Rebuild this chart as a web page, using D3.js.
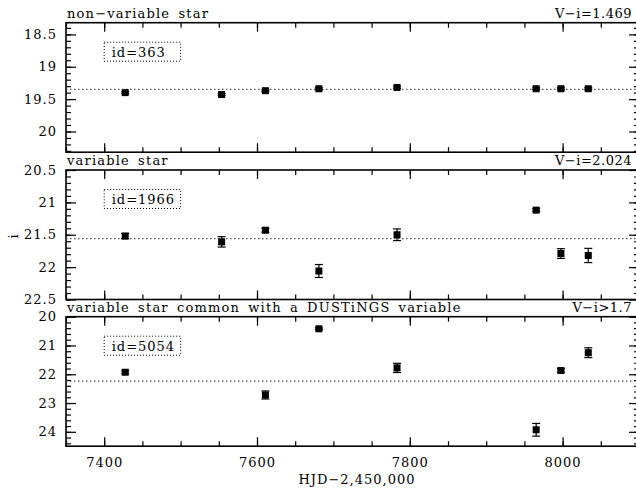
<!DOCTYPE html>
<html>
<head>
<meta charset="UTF-8">
<script src="https://d3js.org/d3.v7.min.js"></script>
<style>
  body { margin: 0; background: #fff; }
  svg { display: block; }
  text { font-family: "DejaVu Serif", serif; font-size: 13px; letter-spacing: 1px; fill: #000; }
  text.title { letter-spacing: 1.2px; word-spacing: 2.8px; }
  text.colour { letter-spacing: 0.5px; }
  .axis path.domain { display: none; }
  .axis line { stroke: #000; stroke-width: 1.2; }
</style>
</head>
<body>
<svg id="chart"></svg>
<script>
const width = 636, height = 494;

// data
const hjd = [7427.5, 7553.7, 7611, 7681, 7783.3, 7965.4, 7997.8, 8033.6];
const mag363 = [19.40, 19.43, 19.37, 19.34, 19.32, 19.34, 19.34, 19.34];
const err363 = [0.015, 0.015, 0.015, 0.015, 0.015, 0.015, 0.015, 0.015];
const mag1966 = [21.52, 21.61, 21.43, 22.06, 21.50, 21.12, 21.79, 21.82];
const err1966 = [0.04, 0.08, 0.03, 0.10, 0.09, 0.02, 0.075, 0.11];
const mag5054 = [21.93, null, 22.72, 20.42, 21.78, 23.93, 21.87, 21.25];
const err5054 = [0.05, null, 0.14, 0.03, 0.16, 0.22, 0.06, 0.17];

const titles = ["non\u2212variable star", "variable star", "variable star common with a DUSTiNGS variable"];
const colours = ["V\u2212i=1.469", "V\u2212i=2.024", "V\u2212i>1.7"];
const ids = ["id=363", "id=1966", "id=5054"];
const means = [19.35, 21.56, 22.24];
const yDomains = [[18.32, 20.32], [20.5, 22.5], [20, 24.5]];
const yMajor = [[18.5, 19, 19.5, 20], [20.5, 21, 21.5, 22, 22.5], [20, 21, 22, 23, 24]];
const yMinorStep = [0.1, 0.1, 0.2];
const xMajor = [7400, 7600, 7800, 8000];
const xMinor = d3.range(7350, 8101, 50);

const panels = [
  {mag: mag363, err: err363},
  {mag: mag1966, err: err1966},
  {mag: mag5054, err: err5054}
];

const left = 66, right = 639;
const tops = [22.7, 170, 316.7];
const ph = 129.5;

const svg = d3.select("#chart").attr("width", width).attr("height", height);

const x = d3.scaleLinear().domain([7350, 8100]).range([left, right]);

panels.forEach((p, i) => {
  const top = tops[i], bottom = top + ph;
  const y = d3.scaleLinear().domain(yDomains[i]).range([top, bottom]);
  const g = svg.append("g");

  const [d0, d1] = yDomains[i];
  const minor = d3.range(Math.ceil(d0 / yMinorStep[i] - 1e-6) * yMinorStep[i], d1 + 1e-6, yMinorStep[i])
    .map(v => +v.toFixed(2));

  // y axes left / right
  g.append("g").attr("class", "axis").attr("transform", `translate(${left},0)`)
    .call(d3.axisLeft(y).tickValues(minor).tickSize(-5).tickFormat(""));
  g.append("g").attr("class", "axis").attr("transform", `translate(${left},0)`)
    .call(d3.axisLeft(y).tickValues(yMajor[i]).tickSize(-10).tickPadding(9).tickFormat(d3.format("")));
  g.append("g").attr("class", "axis").attr("transform", `translate(${right},0)`)
    .call(d3.axisRight(y).tickValues(minor).tickSize(-5).tickFormat(""));
  g.append("g").attr("class", "axis").attr("transform", `translate(${right},0)`)
    .call(d3.axisRight(y).tickValues(yMajor[i]).tickSize(-10).tickFormat(""));

  // x axes top / bottom
  g.append("g").attr("class", "axis").attr("transform", `translate(0,${top})`)
    .call(d3.axisTop(x).tickValues(xMinor).tickSize(-5).tickFormat(""));
  g.append("g").attr("class", "axis").attr("transform", `translate(0,${top})`)
    .call(d3.axisTop(x).tickValues(xMajor).tickSize(-9).tickFormat(""));
  g.append("g").attr("class", "axis").attr("transform", `translate(0,${bottom})`)
    .call(d3.axisBottom(x).tickValues(xMinor).tickSize(-5).tickFormat(""));
  g.append("g").attr("class", "axis").attr("transform", `translate(0,${bottom})`)
    .call(d3.axisBottom(x).tickValues(xMajor).tickSize(-9).tickPadding(12)
      .tickFormat(i === 2 ? d3.format("") : ""));

  // frame
  g.append("rect").attr("x", left).attr("y", top).attr("width", right - left).attr("height", ph)
    .attr("fill", "none").attr("stroke", "#000").attr("stroke-width", 1.6);

  // mean line
  g.append("line").attr("x1", left).attr("x2", right)
    .attr("y1", y(means[i])).attr("y2", y(means[i]))
    .attr("stroke", "#555").attr("stroke-width", 1.2).attr("stroke-dasharray", "1.5,2.5");

  // id box
  const bx = x(7400), bw = x(7500) - x(7400);
  g.append("rect").attr("x", bx).attr("y", top + 19.5).attr("width", bw).attr("height", 19)
    .attr("fill", "none").attr("stroke", "#000").attr("stroke-width", 1).attr("stroke-dasharray", "1,2");
  g.append("text").attr("x", bx + 7.5).attr("y", top + 34).text(ids[i]);

  // titles
  g.append("text").attr("class", "title").attr("x", left + 1).attr("y", top - 5).text(titles[i]);
  g.append("text").attr("class", "colour").attr("x", 632).attr("y", top - 5)
    .attr("text-anchor", "end").text(colours[i]);

  // points with error bars
  const pts = hjd.map((t, k) => ({t: t, m: p.mag[k], e: p.err[k]})).filter(d => d.m != null);
  const eb = g.selectAll(".eb").data(pts).enter().append("g");
  eb.append("line").attr("x1", d => x(d.t)).attr("x2", d => x(d.t))
    .attr("y1", d => y(d.m - d.e)).attr("y2", d => y(d.m + d.e))
    .attr("stroke", "#000").attr("stroke-width", 1.2);
  eb.append("line").attr("x1", d => x(d.t) - 4).attr("x2", d => x(d.t) + 4)
    .attr("y1", d => y(d.m - d.e)).attr("y2", d => y(d.m - d.e))
    .attr("stroke", "#000").attr("stroke-width", 1.2);
  eb.append("line").attr("x1", d => x(d.t) - 4).attr("x2", d => x(d.t) + 4)
    .attr("y1", d => y(d.m + d.e)).attr("y2", d => y(d.m + d.e))
    .attr("stroke", "#000").attr("stroke-width", 1.2);
  eb.append("rect").attr("x", d => x(d.t) - 3.5).attr("y", d => y(d.m) - 3.5)
    .attr("width", 7).attr("height", 7).attr("fill", "#000");
});

// axis titles
svg.append("text").attr("x", 357).attr("y", 484).attr("text-anchor", "middle").text("HJD\u22122,450,000");
svg.append("text").attr("transform", "translate(18,236) rotate(-90)").attr("text-anchor", "middle").text("i");
</script>
</body>
</html>
